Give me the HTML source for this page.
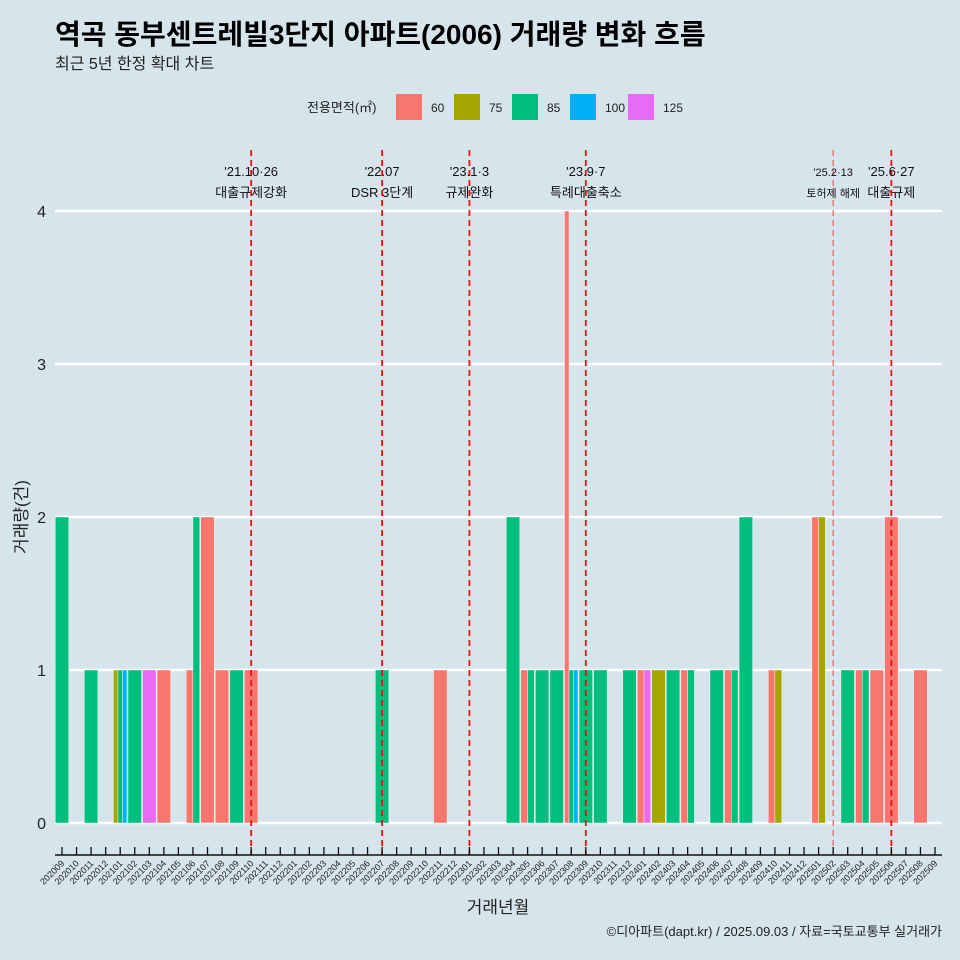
<!DOCTYPE html>
<html><head><meta charset="utf-8"><style>
body{margin:0;background:#d6e4eb;}
svg{display:block;font-family:"Liberation Sans","Noto Sans CJK KR",sans-serif;}
</style></head><body>
<svg id="c" width="960" height="960" viewBox="0 0 960 960">
<rect width="960" height="960" fill="#d6e4eb"/>
<text x="55" y="44" font-size="28" font-weight="bold" fill="#000">역곡 동부센트레빌3단지 아파트(2006) 거래량 변화 흐름</text>
<text x="55" y="69" font-size="16" fill="#222">최근 5년 한정 확대 차트</text>
<g id="legend"></g>
<g id="grid"></g>
<g id="bars"></g>
<g id="events"></g>
<g id="xaxis"></g>
<text x="27" y="517" font-size="17" fill="#222" text-anchor="middle" transform="rotate(-90 27 517)">거래량(건)</text>
<text x="498" y="913" font-size="17" fill="#222" text-anchor="middle">거래년월</text>
<text x="942" y="936" font-size="13" fill="#222" text-anchor="end">©디아파트(dapt.kr) / 2025.09.03 / 자료=국토교통부 실거래가</text>
</svg>
<script>
const areas=["60","75","85","100","125"];
const colors=["#f8766d","#a3a500","#00bf7d","#00b0f6","#e76bf3"];
const yTicks=[0,1,2,3,4];
const months=[];
for(let y=2020,m=9;y<2025||(y===2025&&m<=9);){months.push(""+y+(m<10?"0":"")+m);m++;if(m>12){m=1;y++;}}
const dataMonths=["202009","202011","202101","202102","202103","202104","202106","202107","202108","202109","202110","202207","202211","202304","202305","202306","202307","202308","202309","202310","202312","202401","202402","202403","202404","202406","202407","202408","202410","202501","202503","202504","202505","202506","202508"];
const dataAreas=[["85"],["85"],["75","85","100"],["85"],["125"],["60"],["60","85"],["60"],["60"],["85"],["60"],["85"],["60"],["85"],["60","85"],["85"],["85"],["60","85","100"],["85"],["85"],["85"],["60","125"],["75"],["85"],["60","85"],["85"],["60","85"],["85"],["60","75"],["60","75"],["85"],["60","85"],["60"],["60"],["60"]];
const dataCounts=[[2],[1],[1,1,1],[1],[1],[1],[1,2],[2],[1],[1],[1],[1],[1],[2],[1,1],[1],[1],[4,1,1],[1],[1],[1],[1,1],[1],[1],[1,1],[1],[1,1],[2],[1,1],[2,2],[1],[1,1],[1],[2],[1]];
const eventMonths=["202110","202207","202301","202309","202502","202506"];
const eventL1=["'21.10·26","'22.07","'23.1·3","'23.9·7","'25.2·13","'25.6·27"];
const eventL2=["대출규제강화","DSR 3단계","규제완화","특례대출축소","토허제 해제","대출규제"];

const NS="http://www.w3.org/2000/svg";
function el(t,a,p){const e=document.createElementNS(NS,t);for(const k in a)e.setAttribute(k,a[k]);p.appendChild(e);return e;}
const x0=62,dx=(935-62)/60;
const xs=m=>x0+months.indexOf(m)*dx;
const ys=v=>823-v*153;
const bw=13.5;

const grid=document.getElementById('grid');
yTicks.forEach(v=>{
 const l=el('line',{x1:55,x2:942,y1:ys(v),y2:ys(v),stroke:"#fff","stroke-width":2.5},grid);
 
 
 const t=el('text',{x:46,y:ys(v)+6,"font-size":16,"text-anchor":"end",fill:"#222"},grid);
 t.textContent=v;
 
 
});

const bars=document.getElementById('bars');
dataMonths.forEach((m,i)=>{
 const n=dataAreas[i].length,w=bw/n,cx=xs(m);
 dataAreas[i].forEach((a,j)=>{
  const v=dataCounts[i][j];
  const r=el('rect',{x:cx-bw/2+j*w,y:ys(v),width:w,height:ys(0)-ys(v),fill:colors[areas.indexOf(a)],stroke:"#fff","stroke-width":0.4},bars);
  
  
 });
});

const ev=document.getElementById('events');
eventMonths.forEach((m,i)=>{
 const x=xs(m),thin=(m==="202502");
 const l=el('line',{x1:x,x2:x,y1:150,y2:855,stroke:thin?"#f04040":"#ee1111","stroke-width":thin?1:1.8,"stroke-dasharray":"6,4"},ev);
 
 
 const fs=thin?11:13;
 const t1=el('text',{x:x,y:176,"font-size":fs,"text-anchor":"middle",fill:"#111"},ev);
 t1.textContent=eventL1[i];
 
 
 const t2=el('text',{x:x,y:197,"font-size":fs,"text-anchor":"middle",fill:"#111"},ev);
 t2.textContent=eventL2[i];
 
 
});

const xa=document.getElementById('xaxis');
const al=el('line',{x1:55,x2:942,y1:855,y2:855,stroke:"#111","stroke-width":1.5},xa);


months.forEach(m=>{
 const x=xs(m);
 const t=el('line',{x1:x,x2:x,y1:847,y2:855,stroke:"#111","stroke-width":1.3},xa);
 
 
 const tx=el('text',{x:x+3,y:864,"font-size":9,"text-anchor":"end",fill:"#222",transform:`rotate(-45 ${x+3} 864)`},xa);
 tx.textContent=m;
 
 
});

const lg=document.getElementById('legend');
const lt=el('text',{x:307,y:112,"font-size":13,fill:"#222"},lg);
lt.textContent="전용면적(㎡)";


const lx=[396,454,512,570,628];
areas.forEach((a,i)=>{
 const r=el('rect',{x:lx[i],y:94,width:26,height:26,fill:colors[i]},lg);
 
 
 const t=el('text',{x:lx[i]+35,y:112,"font-size":12,fill:"#222"},lg);
 t.textContent=a;
 
 
});
</script>
</body></html>
